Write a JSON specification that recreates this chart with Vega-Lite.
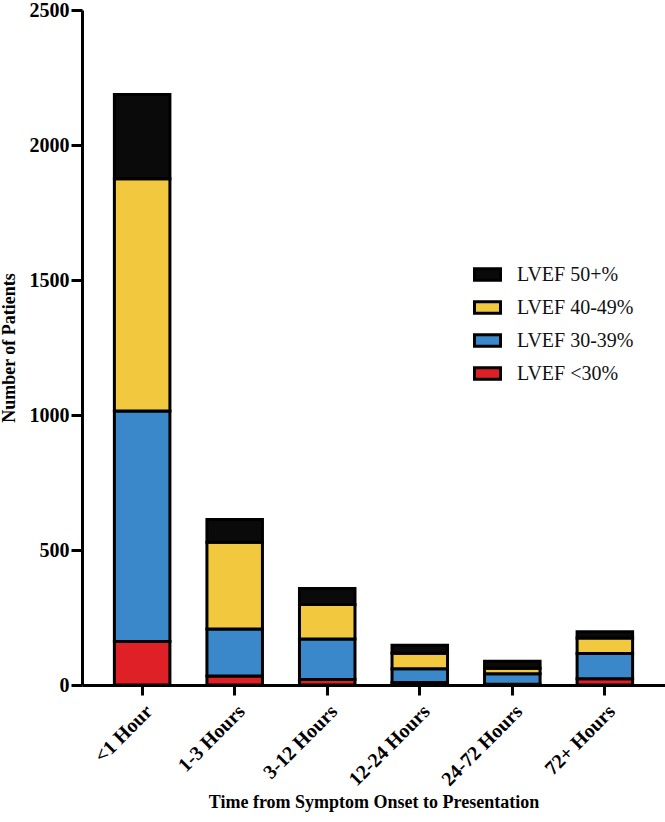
{
  "$schema": "https://vega.github.io/schema/vega-lite/v6.json",
  "width": 583,
  "height": 675,
  "padding": {"left": 0, "top": 0, "right": 1, "bottom": 2},
  "background": "white",
  "data": {"values": [
    {"time": "<1 Hour", "group": "LVEF <30%", "rank": 1, "n": 161},
    {"time": "<1 Hour", "group": "LVEF 30-39%", "rank": 2, "n": 854},
    {"time": "<1 Hour", "group": "LVEF 40-49%", "rank": 3, "n": 860},
    {"time": "<1 Hour", "group": "LVEF 50+%", "rank": 4, "n": 312},
    {"time": "1-3 Hours", "group": "LVEF <30%", "rank": 1, "n": 33},
    {"time": "1-3 Hours", "group": "LVEF 30-39%", "rank": 2, "n": 174},
    {"time": "1-3 Hours", "group": "LVEF 40-49%", "rank": 3, "n": 322},
    {"time": "1-3 Hours", "group": "LVEF 50+%", "rank": 4, "n": 84},
    {"time": "3-12 Hours", "group": "LVEF <30%", "rank": 1, "n": 20},
    {"time": "3-12 Hours", "group": "LVEF 30-39%", "rank": 2, "n": 150},
    {"time": "3-12 Hours", "group": "LVEF 40-49%", "rank": 3, "n": 128},
    {"time": "3-12 Hours", "group": "LVEF 50+%", "rank": 4, "n": 59},
    {"time": "12-24 Hours", "group": "LVEF <30%", "rank": 1, "n": 9},
    {"time": "12-24 Hours", "group": "LVEF 30-39%", "rank": 2, "n": 51},
    {"time": "12-24 Hours", "group": "LVEF 40-49%", "rank": 3, "n": 58},
    {"time": "12-24 Hours", "group": "LVEF 50+%", "rank": 4, "n": 29},
    {"time": "24-72 Hours", "group": "LVEF <30%", "rank": 1, "n": 3},
    {"time": "24-72 Hours", "group": "LVEF 30-39%", "rank": 2, "n": 39},
    {"time": "24-72 Hours", "group": "LVEF 40-49%", "rank": 3, "n": 20},
    {"time": "24-72 Hours", "group": "LVEF 50+%", "rank": 4, "n": 26},
    {"time": "72+ Hours", "group": "LVEF <30%", "rank": 1, "n": 23},
    {"time": "72+ Hours", "group": "LVEF 30-39%", "rank": 2, "n": 94},
    {"time": "72+ Hours", "group": "LVEF 40-49%", "rank": 3, "n": 57},
    {"time": "72+ Hours", "group": "LVEF 50+%", "rank": 4, "n": 23}
  ]},
  "mark": {"type": "bar", "stroke": "black", "strokeWidth": 3, "strokeJoin": "miter"},
  "encoding": {
    "x": {
      "field": "time", "type": "nominal",
      "sort": ["<1 Hour", "1-3 Hours", "3-12 Hours", "12-24 Hours", "24-72 Hours", "72+ Hours"],
      "scale": {"paddingInner": 0.4, "paddingOuter": 0.35},
      "axis": {
        "title": "Time from Symptom Onset to Presentation",
        "titleFont": "Liberation Serif", "titleFontSize": 18, "titleFontWeight": "bold", "titleColor": "black",
        "titlePadding": 4,
        "labelFont": "Liberation Serif", "labelFontSize": 20, "labelFontWeight": "bold", "labelColor": "black",
        "labelAngle": -45, "labelPadding": 6,
        "domainColor": "black", "domainWidth": 3, "tickColor": "black", "tickWidth": 3, "tickSize": 10
      }
    },
    "y": {
      "field": "n", "type": "quantitative", "stack": "zero",
      "scale": {"domain": [0, 2500]},
      "axis": {
        "title": "Number of Patients", "values": [0, 500, 1000, 1500, 2000, 2500], "format": "d",
        "titleFont": "Liberation Serif", "titleFontSize": 18, "titleFontWeight": "bold", "titleColor": "black",
        "titlePadding": 11,
        "labelFont": "Liberation Serif", "labelFontSize": 20, "labelFontWeight": "bold", "labelColor": "black",
        "labelPadding": 2, "grid": false,
        "domainColor": "black", "domainWidth": 3, "tickColor": "black", "tickWidth": 3, "tickSize": 11
      }
    },
    "color": {
      "field": "group", "type": "nominal",
      "scale": {
        "domain": ["LVEF 50+%", "LVEF 40-49%", "LVEF 30-39%", "LVEF <30%"],
        "range": ["#0a0a0a", "#f2c83f", "#3a87c9", "#e02027"]
      },
      "legend": {
        "title": null, "orient": "none", "legendX": 391, "legendY": 250,
        "symbolType": "M-1,-0.45H1V0.45H-1Z", "symbolSize": 676, "symbolStrokeColor": "black", "symbolStrokeWidth": 3,
        "labelFont": "Liberation Serif", "labelFontSize": 20, "labelColor": "#111",
        "rowPadding": 6, "labelOffset": 15
      }
    },
    "order": {"field": "rank", "type": "quantitative", "sort": "ascending"}
  },
  "config": {"view": {"stroke": null}}
}
